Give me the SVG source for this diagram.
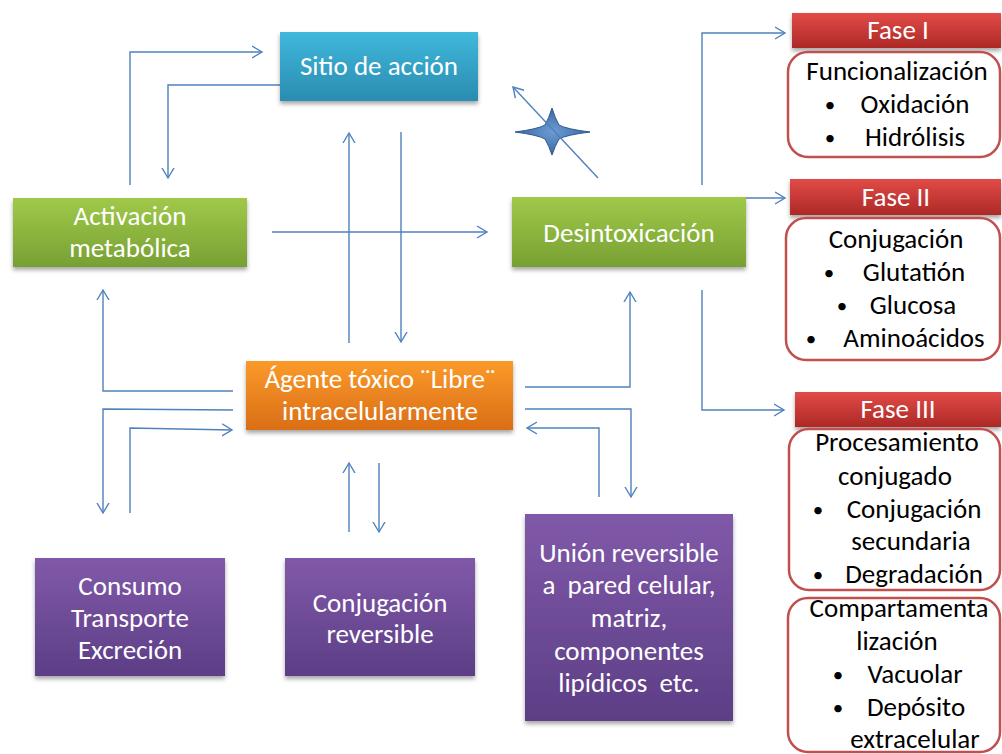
<svg xmlns="http://www.w3.org/2000/svg" width="1002" height="754" viewBox="0 0 1002 754">
<defs>
<linearGradient id="gBlue" x1="0" y1="0" x2="0" y2="1"><stop offset="0" stop-color="#3fb8dc"/><stop offset="1" stop-color="#2a8cb0"/></linearGradient>
<linearGradient id="gGreen" x1="0" y1="0" x2="0" y2="1"><stop offset="0" stop-color="#a0c94a"/><stop offset="1" stop-color="#77a033"/></linearGradient>
<linearGradient id="gOrange" x1="0" y1="0" x2="0" y2="1"><stop offset="0" stop-color="#fb9a2a"/><stop offset="1" stop-color="#da6e17"/></linearGradient>
<linearGradient id="gPurple" x1="0" y1="0" x2="0" y2="1"><stop offset="0" stop-color="#8059a9"/><stop offset="1" stop-color="#5d3e86"/></linearGradient>
<linearGradient id="gRed" x1="0" y1="0" x2="0" y2="1"><stop offset="0" stop-color="#e24b47"/><stop offset="1" stop-color="#ad2826"/></linearGradient>
<radialGradient id="gStar" cx="0.5" cy="0.5" r="0.5"><stop offset="0" stop-color="#6d9bd3"/><stop offset="1" stop-color="#3a67a3"/></radialGradient>
<filter id="sh" x="-10%" y="-10%" width="120%" height="140%"><feDropShadow dx="0" dy="3" stdDeviation="2" flood-color="#000" flood-opacity="0.35"/></filter>
<marker id="ah" markerWidth="12" markerHeight="14" refX="10" refY="7" orient="auto" markerUnits="userSpaceOnUse"><path d="M0,1 L10,7 L0,13" fill="none" stroke="#4f81bd" stroke-width="1.4"/></marker>
</defs>
<style>
.t{font-family:Carlito,Lato,"Liberation Sans",sans-serif;font-size:27px;text-anchor:middle;white-space:pre}
.b{font-size:21px}
.w{fill:#fff}
.k{fill:#000}
.c{fill:none;stroke:#4f81bd;stroke-width:1.4}
.a{marker-end:url(#ah)}
.rb{fill:#fff;stroke:#c0504d;stroke-width:2.5}
</style>
<rect width="1002" height="754" fill="#fff"/>

<g id="star"><path d="M515,132 Q538,129 545,125 Q549,118 552,108 Q555,118 559,125 Q566,129 590,132 Q566,135 559,139 Q555,146 552,155 Q549,146 545,139 Q538,135 515,132 Z" fill="url(#gStar)" stroke="#2f5a8f" stroke-width="1"/></g>

<g id="connectors">
<path class="c a" d="M130,185 V52 H262"/>
<path class="c a" d="M280,85 H168 V178"/>
<path class="c a" d="M272,232 H487"/>
<path class="c a" d="M349,343 V133"/>
<path class="c a" d="M401,132 V342"/>
<path class="c a" d="M233,391 H103 V290"/>
<path class="c a" d="M233,410 L103,409 V513"/>
<path class="c a" d="M130,513 V428 L232,430"/>
<path class="c a" d="M349,532 V463"/>
<path class="c a" d="M379,463 V532"/>
<path class="c a" d="M525,387 H630 V292"/>
<path class="c a" d="M525,409 H631 V497"/>
<path class="c a" d="M599,497 V428 H527"/>
<path class="c a" d="M598,178 L513,87"/>
<path class="c a" d="M702,185 V33 H785"/>
<path class="c a" d="M745,198 H785"/>
<path class="c a" d="M702,290 V410 H784"/>
</g>

<g id="sitio"><rect x="280" y="32" width="198" height="69" fill="url(#gBlue)" filter="url(#sh)"/><text class="t w" x="379" y="75">Sitio de acción</text></g>
<g id="activacion"><rect x="13" y="198" width="234" height="69" fill="url(#gGreen)" filter="url(#sh)"/><text class="t w" x="130" y="225">Activación</text><text class="t w" x="130" y="257">metabólica</text></g>
<g id="desintox"><rect x="512" y="197" width="234" height="70" fill="url(#gGreen)" filter="url(#sh)"/><text class="t w" x="629" y="242">Desintoxicación</text></g>
<g id="agente"><rect x="246" y="361" width="267" height="69" fill="url(#gOrange)" filter="url(#sh)"/><text class="t w" x="380" y="388">Ágente tóxico ¨Libre¨</text><text class="t w" x="380" y="420">intracelularmente</text></g>
<g id="consumo"><rect x="35" y="558" width="190" height="118" fill="url(#gPurple)" filter="url(#sh)"/><text class="t w" x="130" y="595">Consumo</text><text class="t w" x="130" y="627">Transporte</text><text class="t w" x="130" y="659">Excreción</text></g>
<g id="conjrev"><rect x="285" y="558" width="190" height="118" fill="url(#gPurple)" filter="url(#sh)"/><text class="t w" x="380" y="612">Conjugación</text><text class="t w" x="380" y="643">reversible</text></g>
<g id="union"><rect x="525" y="514" width="208" height="207" fill="url(#gPurple)" filter="url(#sh)"/><text class="t w" x="629" y="562">Unión reversible</text><text class="t w" x="629" y="594">a  pared celular,</text><text class="t w" x="629" y="627">matriz,</text><text class="t w" x="629" y="660">componentes</text><text class="t w" x="629" y="692">lipídicos  etc.</text></g>

<g id="fase1"><rect x="792" y="13" width="209" height="35" fill="url(#gRed)" filter="url(#sh)"/><text class="t w" x="898" y="39">Fase I</text>
<rect class="rb" x="788" y="52" width="212" height="105" rx="20"/>
<text class="t k" x="897" y="80">Funcionalización</text>
<text class="t k b" x="830" y="112">•</text><text class="t k" x="915" y="113">Oxidación</text>
<text class="t k b" x="830" y="145">•</text><text class="t k" x="915" y="146">Hidrólisis</text></g>

<g id="fase2"><rect x="790" y="179" width="211" height="36" fill="url(#gRed)" filter="url(#sh)"/><text class="t w" x="896" y="206">Fase II</text>
<rect class="rb" x="786" y="218" width="214" height="142" rx="20"/>
<text class="t k" x="896" y="248">Conjugación</text>
<text class="t k b" x="829" y="280">•</text><text class="t k" x="914" y="281">Glutatión</text>
<text class="t k b" x="842" y="313">•</text><text class="t k" x="913" y="314">Glucosa</text>
<text class="t k b" x="811" y="346">•</text><text class="t k" x="914" y="347">Aminoácidos</text></g>

<g id="fase3"><rect x="795" y="392" width="206" height="35" fill="url(#gRed)" filter="url(#sh)"/><text class="t w" x="898" y="418">Fase III</text>
<rect class="rb" x="789" y="429" width="211" height="161" rx="20"/>
<text class="t k" x="897" y="451">Procesamiento</text>
<text class="t k" x="895" y="485">conjugado</text>
<text class="t k b" x="818" y="517">•</text><text class="t k" x="914" y="518">Conjugación</text>
<text class="t k" x="911" y="550">secundaria</text>
<text class="t k b" x="818" y="582">•</text><text class="t k" x="914" y="583">Degradación</text></g>

<g id="compart"><rect class="rb" x="788" y="598" width="212" height="154" rx="20"/>
<text class="t k" x="899" y="617">Compartamenta</text>
<text class="t k" x="897" y="650">lización</text>
<text class="t k b" x="838" y="682">•</text><text class="t k" x="915" y="683">Vacuolar</text>
<text class="t k b" x="838" y="715">•</text><text class="t k" x="916" y="716">Depósito</text>
<text class="t k" x="915" y="748">extracelular</text></g>
</svg>
